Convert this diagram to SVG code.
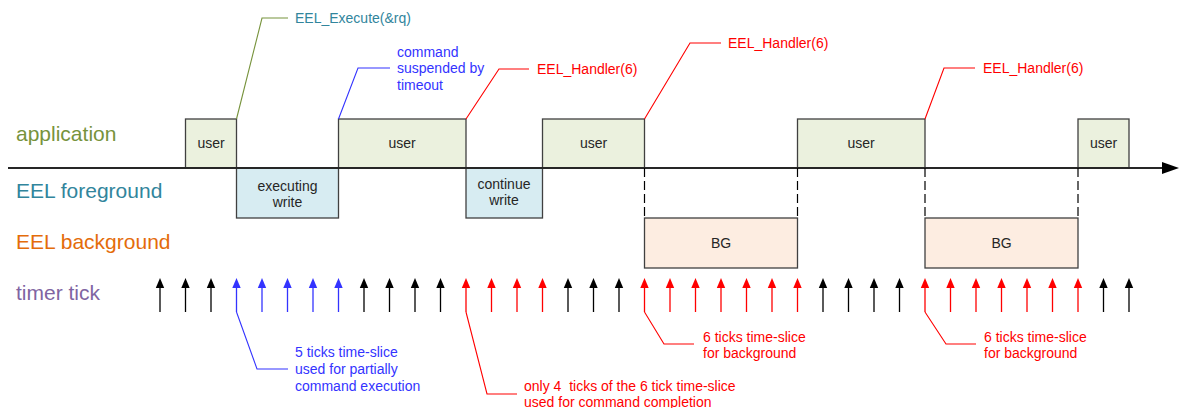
<svg xmlns="http://www.w3.org/2000/svg" xmlns:xlink="http://www.w3.org/1999/xlink" width="1184" height="408" viewBox="0 0 1184 408">
<style>
text{font-family:"Liberation Sans",Arial,sans-serif;}
.lane{font-size:21px;}
.t{font-size:14px;}
.bx{font-size:14px;fill:#262626;text-anchor:middle;}
.user{fill:#EBF1DE;stroke:#404040;stroke-width:1.3;}
.fg{fill:#D7ECF2;stroke:#404040;stroke-width:1.3;}
.bg{fill:#FDEDE1;stroke:#404040;stroke-width:1.3;}
.dash{stroke:#000;stroke-width:1.2;stroke-dasharray:9,4;fill:none;}
.ld{fill:none;stroke-width:1.1;}
</style>
<defs>
<g id="tk">
<line x1="0" y1="312" x2="0" y2="286" stroke="currentColor" stroke-width="1.3"/>
<polygon points="0,278 -4.2,288 4.2,288" fill="currentColor"/>
</g>
</defs>
<rect width="1184" height="408" fill="#fff"/>

<g id="lanes">
<text class="lane" x="16" y="141" fill="#77933C">application</text>
<text class="lane" x="16" y="198" fill="#31859C">EEL foreground</text>
<text class="lane" x="16" y="249" fill="#E46C0A">EEL background</text>
<text class="lane" x="16" y="300" fill="#8064A2">timer tick</text>
</g>

<g id="user1"><rect class="user" x="185.5" y="119" width="51" height="49"/><text class="bx" x="211" y="148">user</text></g>
<g id="fg1"><rect class="fg" x="236.5" y="168" width="102" height="50"/><text class="bx" x="287.5" y="191">executing</text><text class="bx" x="287.5" y="207">write</text></g>
<g id="user2"><rect class="user" x="338.5" y="119" width="127.5" height="49"/><text class="bx" x="402" y="148">user</text></g>
<g id="fg2"><rect class="fg" x="466" y="168" width="76.5" height="50"/><text class="bx" x="504" y="189">continue</text><text class="bx" x="504" y="205">write</text></g>
<g id="user3"><rect class="user" x="542.5" y="119" width="102" height="49"/><text class="bx" x="593.5" y="148">user</text></g>
<g id="bg1"><rect class="bg" x="644.5" y="218" width="153" height="50"/><text class="bx" x="721" y="248">BG</text></g>
<g id="user4"><rect class="user" x="797.5" y="119" width="127.5" height="49"/><text class="bx" x="861" y="148">user</text></g>
<g id="bg2"><rect class="bg" x="925" y="218" width="153" height="50"/><text class="bx" x="1001.5" y="248">BG</text></g>
<g id="user5"><rect class="user" x="1078" y="119" width="51" height="49"/><text class="bx" x="1103.5" y="148">user</text></g>

<g id="connectors">
<line x1="8" y1="168" x2="1163" y2="168" stroke="#262626" stroke-width="1.8"/>
<polygon points="1179,168 1162,162 1162,174" fill="#000"/>
<line class="dash" x1="644.5" y1="168" x2="644.5" y2="218"/>
<line class="dash" x1="797.5" y1="168" x2="797.5" y2="218"/>
<line class="dash" x1="925" y1="168" x2="925" y2="218"/>
<line class="dash" x1="1078" y1="168" x2="1078" y2="218"/>

<polyline class="ld" stroke="#77933C" points="236.5,119 262,18 288,18"/>
<polyline class="ld" stroke="#3333FF" points="338.5,119 358,68 390,68"/>
<polyline class="ld" stroke="#FF0000" points="466,119 499,69 529,69"/>
<polyline class="ld" stroke="#FF0000" points="644.5,119 690,43 721,43"/>
<polyline class="ld" stroke="#FF0000" points="925,119 944,68 975,68"/>

<polyline class="ld" stroke="#3333FF" points="236.5,312 257,369 288,369"/>
<polyline class="ld" stroke="#FF0000" points="466,312 487,394 517,394"/>
<polyline class="ld" stroke="#FF0000" points="644.5,312 664,344 694,344"/>
<polyline class="ld" stroke="#FF0000" points="925,312 946,344 976,344"/>
</g>

<g id="ticks">
<use xlink:href="#tk" x="160" style="color:#000"/>
<use xlink:href="#tk" x="185.5" style="color:#000"/>
<use xlink:href="#tk" x="211" style="color:#000"/>
<use xlink:href="#tk" x="236.5" style="color:#3333FF"/>
<use xlink:href="#tk" x="262" style="color:#3333FF"/>
<use xlink:href="#tk" x="287.5" style="color:#3333FF"/>
<use xlink:href="#tk" x="313" style="color:#3333FF"/>
<use xlink:href="#tk" x="338.5" style="color:#3333FF"/>
<use xlink:href="#tk" x="364" style="color:#000"/>
<use xlink:href="#tk" x="389.5" style="color:#000"/>
<use xlink:href="#tk" x="415" style="color:#000"/>
<use xlink:href="#tk" x="440.5" style="color:#000"/>
<use xlink:href="#tk" x="466" style="color:#FF0000"/>
<use xlink:href="#tk" x="491.5" style="color:#FF0000"/>
<use xlink:href="#tk" x="517" style="color:#FF0000"/>
<use xlink:href="#tk" x="542.5" style="color:#FF0000"/>
<use xlink:href="#tk" x="568" style="color:#000"/>
<use xlink:href="#tk" x="593.5" style="color:#000"/>
<use xlink:href="#tk" x="619" style="color:#000"/>
<use xlink:href="#tk" x="644.5" style="color:#FF0000"/>
<use xlink:href="#tk" x="670" style="color:#FF0000"/>
<use xlink:href="#tk" x="695.5" style="color:#FF0000"/>
<use xlink:href="#tk" x="721" style="color:#FF0000"/>
<use xlink:href="#tk" x="746.5" style="color:#FF0000"/>
<use xlink:href="#tk" x="772" style="color:#FF0000"/>
<use xlink:href="#tk" x="797.5" style="color:#FF0000"/>
<use xlink:href="#tk" x="823" style="color:#000"/>
<use xlink:href="#tk" x="848.5" style="color:#000"/>
<use xlink:href="#tk" x="874" style="color:#000"/>
<use xlink:href="#tk" x="899.5" style="color:#000"/>
<use xlink:href="#tk" x="925" style="color:#FF0000"/>
<use xlink:href="#tk" x="950.5" style="color:#FF0000"/>
<use xlink:href="#tk" x="976" style="color:#FF0000"/>
<use xlink:href="#tk" x="1001.5" style="color:#FF0000"/>
<use xlink:href="#tk" x="1027" style="color:#FF0000"/>
<use xlink:href="#tk" x="1052.5" style="color:#FF0000"/>
<use xlink:href="#tk" x="1078" style="color:#FF0000"/>
<use xlink:href="#tk" x="1103.5" style="color:#000"/>
<use xlink:href="#tk" x="1129" style="color:#000"/>
</g>

<g id="labels">
<text class="t" x="295" y="23" fill="#31859C">EEL_Execute(&amp;rq)</text>
<text class="t" fill="#3333FF"><tspan x="397" y="56.5">command</tspan><tspan x="397" y="73">suspended by</tspan><tspan x="397" y="89.5">timeout</tspan></text>
<text class="t" x="537" y="74" fill="#FF0000">EEL_Handler(6)</text>
<text class="t" x="728" y="48" fill="#FF0000">EEL_Handler(6)</text>
<text class="t" x="983" y="73" fill="#FF0000">EEL_Handler(6)</text>
<text class="t" fill="#3333FF"><tspan x="295" y="357">5 ticks time-slice</tspan><tspan x="295" y="374">used for partially</tspan><tspan x="295" y="391">command execution</tspan></text>
<text class="t" fill="#FF0000" xml:space="preserve"><tspan x="524" y="390.5">only 4  ticks of the 6 tick time-slice</tspan><tspan x="524" y="407">used for command completion</tspan></text>
<text class="t" fill="#FF0000"><tspan x="703" y="341.5">6 ticks time-slice</tspan><tspan x="703" y="358">for background</tspan></text>
<text class="t" fill="#FF0000"><tspan x="984" y="341.5">6 ticks time-slice</tspan><tspan x="984" y="358">for background</tspan></text>
</g>
</svg>
